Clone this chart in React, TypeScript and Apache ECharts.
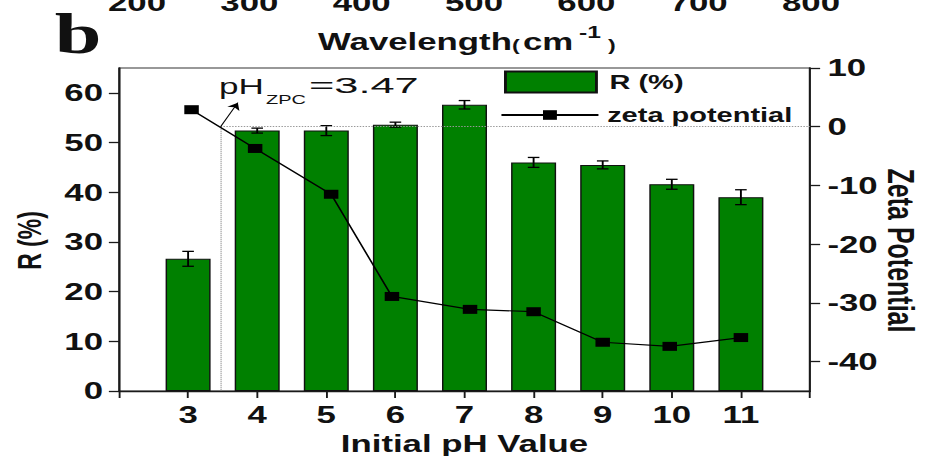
import React, { useEffect, useRef } from 'react';
import * as echarts from 'echarts';

// ---- data ----
const pH = [3, 4, 5, 6, 7, 8, 9, 10, 11];
const removal = [26.6, 52.4, 52.4, 53.6, 57.6, 46.0, 45.5, 41.6, 39.0];
const removalErr = [1.5, 0.5, 1.0, 0.5, 0.85, 1.0, 0.8, 1.0, 1.5];
const zetaPH = [3.05, 3.97, 5.07, 5.95, 7.08, 8.0, 9.0, 9.97, 11.0];
const zeta = [2.9, -3.7, -11.5, -28.9, -31.1, -31.5, -36.7, -37.4, -35.9];
const pHzpc = 3.47;
const arrowEnd = [3.72, 4.1];
const pHTicks = [2, 3, 4, 5, 6, 7, 8, 9, 10, 11, 12];
const pHLabels = [3, 4, 5, 6, 7, 8, 9, 10, 11];
const rTicks = [0, 10, 20, 30, 40, 50, 60];
const zetaTicks = [-40, -30, -20, -10, 0, 10];
const wavelengthTicks = [200, 300, 400, 500, 600, 700, 800];

// ---- layout ----
const W = 638;
const H = 456;
const S = 925 / W;
const sx = (x: number) => x / S;
const FONT = "'Liberation Sans', Arial, Helvetica, sans-serif";
const SERIF = "'Liberation Serif', 'Times New Roman', serif";

const boldText = (size: number) => ({
  fontFamily: FONT,
  fontWeight: 'bold' as const,
  fontSize: size,
  color: '#111',
});

function txt(text: string, x: number, y: number, font: string, align = 'left', scaleX = 1) {
  return {
    type: 'text',
    x,
    y,
    scaleX,
    silent: true,
    style: {
      text,
      font,
      fill: '#111',
      align,
      verticalAlign: 'middle',
      textAlign: align,
      textVerticalAlign: 'middle',
    },
  };
}

export default function App() {
  const ref = useRef<HTMLDivElement>(null);

  useEffect(() => {
    const chart = echarts.init(ref.current!, null, { renderer: 'svg' });
    const axisLineStyle = { color: '#1a1a1a', width: 1.3 };

    const option: any = {
      animation: false,
      backgroundColor: '#fff',
      grid: [
        {
          left: sx(119),
          right: W - sx(810),
          top: 68,
          bottom: H - 391,
          outerBoundsMode: 'none',
          containLabel: false,
          show: true,
          borderColor: '#333',
          borderWidth: 1.2,
          backgroundColor: 'transparent',
        },
        {
          left: sx(137),
          right: W - sx(811),
          top: -58,
          height: 40.5,
          outerBoundsMode: 'none',
          containLabel: false,
          show: false,
        },
      ],
      xAxis: [
        {
          type: 'value',
          gridIndex: 0,
          min: 2,
          max: 12,
          interval: 1,
          position: 'bottom',
          axisLine: { show: true, onZero: false, lineStyle: axisLineStyle },
          axisTick: { show: true, length: 7, lineStyle: axisLineStyle, customValues: pHTicks },
          axisLabel: { customValues: pHLabels, margin: 12, ...boldText(24) },
          splitLine: { show: false },
          name: 'Initial pH Value',
          nameLocation: 'middle',
          nameGap: 39,
          nameTextStyle: boldText(24),
        },
        {
          type: 'value',
          gridIndex: 1,
          min: 200,
          max: 800,
          interval: 100,
          position: 'bottom',
          axisLine: { show: false, onZero: false },
          axisTick: { show: false },
          axisLabel: { margin: 8, ...boldText(24) },
          splitLine: { show: false },
        },
      ],
      yAxis: [
        {
          type: 'value',
          gridIndex: 0,
          min: 0,
          max: 65,
          position: 'left',
          axisLine: { show: true, onZero: false, lineStyle: axisLineStyle },
          axisTick: { show: true, length: 7, lineStyle: axisLineStyle, customValues: rTicks },
          axisLabel: { customValues: rTicks, margin: 11, ...boldText(24) },
          splitLine: { show: false },
          name: 'R (%)',
          nameLocation: 'middle',
          nameRotate: 90,
          nameGap: 50,
          nameTextStyle: { ...boldText(23), padding: [0, 22, 0, 0] },
        },
        {
          type: 'value',
          gridIndex: 0,
          min: -45,
          max: 10,
          position: 'right',
          axisLine: { show: true, onZero: false, lineStyle: axisLineStyle },
          axisTick: { show: true, length: 7, lineStyle: axisLineStyle, customValues: zetaTicks },
          axisLabel: { customValues: zetaTicks, margin: 12, ...boldText(24) },
          splitLine: { show: false },
          name: 'Zeta Potential',
          nameLocation: 'middle',
          nameRotate: -90,
          nameGap: 50,
          nameMoveOverlap: false,
          nameTextStyle: { ...boldText(25), padding: [0, 0, 0, 42] },
        },
        { type: 'value', gridIndex: 1, min: 0, max: 1, show: false },
      ],
      legend: [
        {
          data: [{ name: 'R (%)', icon: 'rect' }],
          left: sx(504),
          top: 70.5,
          orient: 'vertical',
          itemWidth: sx(91),
          itemHeight: 21,
          padding: 0,
          selectedMode: false,
          textStyle: { ...boldText(20), padding: [0, 0, 0, 4] },
        },
        {
          data: ['zeta potential'],
          left: sx(500),
          top: 105,
          orient: 'vertical',
          itemWidth: sx(97),
          itemHeight: 12,
          padding: 0,
          selectedMode: false,
          textStyle: { ...boldText(20), padding: [0, 0, 0, 1] },
        },
      ],
      series: [
        {
          name: 'R (%)',
          type: 'bar',
          xAxisIndex: 0,
          yAxisIndex: 0,
          barWidth: sx(45),
          z: 2,
          itemStyle: { color: '#008000', borderColor: '#111', borderWidth: 1 },
          data: pH.map((p, i) => [p, removal[i]]),
        },
        {
          type: 'custom',
          xAxisIndex: 0,
          yAxisIndex: 0,
          z: 4,
          silent: true,
          data: pH.map((p, i) => [p, removal[i] - removalErr[i], removal[i] + removalErr[i]]),
          renderItem: (params: any, api: any) => {
            const x = api.value(0);
            const lo = api.coord([x, api.value(1)]);
            const hi = api.coord([x, api.value(2)]);
            const hw = 4;
            const style = { stroke: '#000', lineWidth: 1.3 };
            return {
              type: 'group',
              children: [
                { type: 'line', shape: { x1: lo[0], y1: lo[1], x2: hi[0], y2: hi[1] }, style },
                { type: 'line', shape: { x1: lo[0] - hw, y1: lo[1], x2: lo[0] + hw, y2: lo[1] }, style },
                { type: 'line', shape: { x1: hi[0] - hw, y1: hi[1], x2: hi[0] + hw, y2: hi[1] }, style },
              ],
            };
          },
        },
        {
          name: 'zeta potential',
          type: 'line',
          xAxisIndex: 0,
          yAxisIndex: 1,
          z: 5,
          symbol: 'rect',
          symbolSize: [10, 9],
          itemStyle: { color: '#000' },
          lineStyle: { color: '#000', width: 1.2 },
          data: zetaPH.map((x, i) => [x, zeta[i]]),
          markLine: {
            silent: true,
            symbol: ['none', 'none'],
            label: { show: false },
            lineStyle: { color: '#999', type: 'dotted', width: 1 },
            data: [
              [{ coord: [pHzpc, 0] }, { coord: [12, 0] }],
              [{ coord: [pHzpc, 0] }, { coord: [pHzpc, -45] }],
              [
                { coord: [pHzpc, 0], symbol: 'none', lineStyle: { color: '#000', type: 'solid', width: 0.8 } },
                { coord: arrowEnd, symbol: 'arrow', symbolSize: 7 },
              ],
            ],
          },
        },
      ],
      graphic: [
        txt('b', sx(78), 33.5, `bold 58px ${SERIF}`, 'center'),
        txt('Wavelength', sx(318), 41.5, `bold 24px ${FONT}`),
        txt('(', sx(512), 45, `bold 16px ${FONT}`),
        txt('cm', sx(523), 41.5, `bold 24px ${FONT}`),
        txt('-1', sx(579), 32, `bold 17px ${FONT}`),
        txt(')', sx(608), 45, `bold 16px ${FONT}`),
        txt('pH', sx(219), 85.8, `22px ${FONT}`, 'left', 1.1),
        txt('ZPC', sx(266), 99.7, `13px ${FONT}`, 'left', 1.06),
        txt(`=${pHzpc}`, sx(309), 85.8, `22px ${FONT}`, 'left', 1.36),
      ],
    };

    chart.setOption(option);
    return () => chart.dispose();
  }, []);

  return (
    <div
      style={{
        position: 'fixed',
        left: 0,
        top: 0,
        width: 925,
        height: H,
        overflow: 'hidden',
        background: '#fff',
      }}
    >
      <div
        ref={ref}
        style={{ width: W, height: H, transform: `scaleX(${S})`, transformOrigin: '0 0' }}
      />
    </div>
  );
}
